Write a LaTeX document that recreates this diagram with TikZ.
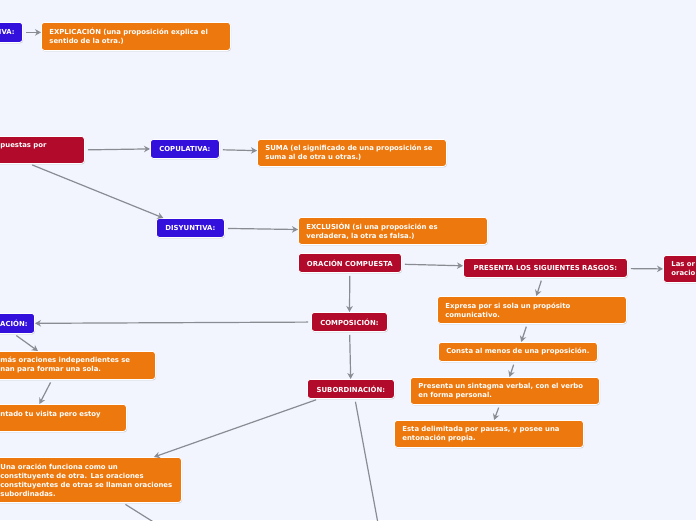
\documentclass[tikz,border=0pt]{standalone}
\usepackage{fontspec}
\setsansfont{DejaVu Sans}
\usepackage{xcolor}
\usepackage{tikz}
\usetikzlibrary{shapes,positioning,shadows,arrows.meta}
\definecolor{fondo}{RGB}{242,245,253}
\definecolor{azul}{RGB}{52,16,221}
\definecolor{rojo}{RGB}{178,10,42}
\definecolor{naranja}{RGB}{237,120,14}
\definecolor{gris}{RGB}{138,140,148}
\tikzset{caja/.style={rectangle,rounded corners=3pt,draw=white,line width=0.8pt,text=white,
    font=\sffamily\bfseries\fontsize{6.9}{9}\selectfont,inner xsep=8pt,inner ysep=3pt,
    anchor=north west,drop shadow={opacity=0.3,shadow xshift=0.6pt,shadow yshift=-1pt}},
  blu/.style={caja,fill=azul,minimum height=19pt,align=center},
  rojo/.style={caja,fill=rojo,minimum height=19pt,align=center},
  orng/.style={caja,fill=naranja,minimum height=27pt,text width=173pt,align=left},
  link/.style={->,draw=gris,line width=1.2pt,shorten <=3pt}}

\begin{document}
\begin{tikzpicture}[x=1pt,y=-1pt,>={Stealth[length=6pt,width=6.5pt]}]
    \fill[fondo] (0,0) rectangle (696,520);
    \useasboundingbox (0,0) rectangle (696,520);
    \clip (0,0) rectangle (696,520);

    \node[blu,anchor=north east,minimum height=20pt] (expli) at (23,22) {IVA:};
    \node[orng,minimum height=28pt] (explic) at (41,22) {EXPLICACIÓN (una proposición explica el\\ sentido de la otra.)};
    \node[rojo,align=left,text width=76pt,minimum height=27pt] (compu) at (-8,136) {puestas por\\\mbox{}};
    \node[blu,minimum width=69pt] (copu) at (150,139) {COPULATIVA:};
    \node[blu,minimum width=68pt] (disy) at (156,218) {DISYUNTIVA:};
    \node[orng] (suma) at (257,139) {SUMA (el significado de una proposición se\\ suma al de otra u otras.)};
    \node[orng] (excl) at (298,217) {EXCLUSIÓN (si una proposición es\\ verdadera, la otra es falsa.)};
    \node[rojo,minimum width=103pt] (oc) at (298,253) {ORACIÓN COMPUESTA};
    \node[rojo,minimum width=164pt] (rasgos) at (463,258) {PRESENTA LOS SIGUIENTES RASGOS:};
    \node[rojo,align=left,text width=60pt,minimum height=27pt] (oraci) at (663,255) {Las or\\oracio};
    \node[orng] (rasgoa) at (437,296) {Expresa por si sola un propósito\\ comunicativo.};
    \node[orng,text width=143pt,minimum height=19pt] (rasgob) at (438,342) {Consta al menos de una proposición.};
    \node[orng] (rasgoc) at (410,377) {Presenta un sintagma verbal, con el verbo\\ en forma personal.};
    \node[orng] (rasgod) at (394,420) {Esta delimitada por pausas, y posee una\\ entonación propia.};
    \node[rojo,minimum width=76pt] (compo) at (311,312) {COMPOSICIÓN:};
    \node[rojo,minimum width=87pt] (subor) at (307,379) {SUBORDINACIÓN:};
    \node[blu,anchor=north east,minimum height=20pt,inner xsep=7pt] (coord) at (35,313) {ACIÓN:};
    \node[orng,text width=147pt,minimum height=28pt] (coorddef) at (-8,351) {más oraciones independientes se\\ nan para formar una sola.};
    \node[orng,text width=118pt] (ejem) at (-8,404) {ntado tu visita pero estoy\\\mbox{}};
    \node[orng,minimum height=45pt] (subdef) at (-8,457) {Una oración funciona como un\\ constituyente de otra. Las oraciones\\ constituyentes de otras se llaman oraciones\\ subordinadas.};
    \coordinate (suba) at (190,545);
    \coordinate (subb) at (382,545);

    \draw [link] (expli.east) to (expli.east -| explic.west);
    \draw [link] (compu.east) to (copu.west);
    \draw [link] ([xshift=-9pt]compu.south) to ([xshift=-27pt]disy.north);
    \draw [link] (copu) to (suma);
    \draw [link] (disy) to (excl);
    \draw [link] (oc) to (rasgos);
    \draw [link] (rasgos) to (oraci.west);
    \draw [link] (rasgos) to (rasgoa);
    \draw [link] (rasgoa) to (rasgob);
    \draw [link] (rasgob) to (rasgoc);
    \draw [link] (rasgoc) to (rasgod);
    \draw [link] (oc) to (compo);
    \draw [link] (compo) to (subor);
    \draw [link] (compo) to (coord);
    \draw [link] (coord.south) to ([xshift=-36pt]coorddef.north);
    \draw [link] ([xshift=-22pt]coorddef.south) to ([xshift=-20pt]ejem.north);
    \draw [link] ([xshift=-32pt]subor.south) to ([xshift=67pt]subdef.north);
    \draw [link] ([xshift=36pt]subdef.south) to (suba);
    \draw [link] ([xshift=4pt]subor.south) to (subb);
\end{tikzpicture}
\end{document}
